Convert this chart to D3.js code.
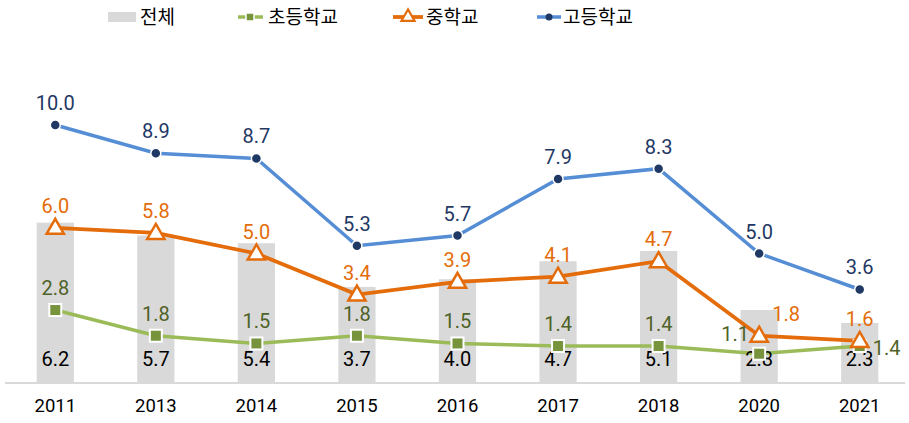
<!DOCTYPE html>
<html>
<head>
<meta charset="utf-8">
<script src="https://cdn.jsdelivr.net/npm/d3@7"></script>
<style>
  body { margin: 0; background: #fff; }
  text { font-family: Roboto, "Noto Sans CJK KR", sans-serif; }
  .legend text { font-family: "Noto Sans CJK KR", sans-serif; }
</style>
</head>
<body>
<svg id="chart"></svg>
<script>
// data
const years = ["2011", "2013", "2014", "2015", "2016", "2017", "2018", "2020", "2021"];
const total = [6.2, 5.7, 5.4, 3.7, 4.0, 4.7, 5.1, 2.8, 2.3];
const elementary = [2.8, 1.8, 1.5, 1.8, 1.5, 1.4, 1.4, 1.1, 1.4];
const middle = [6.0, 5.8, 5.0, 3.4, 3.9, 4.1, 4.7, 1.8, 1.6];
const high = [10.0, 8.9, 8.7, 5.3, 5.7, 7.9, 8.3, 5.0, 3.6];
const legendNames = ["전체", "초등학교", "중학교", "고등학교"];

const width = 909, height = 423;
const svg = d3.select("#chart").attr("width", width).attr("height", height);

const x = d3.scaleBand().domain(years).range([5, 910]).paddingInner(0.63).paddingOuter(0.315);
const y = d3.scaleLinear().domain([0, 10]).range([382, 125]);
const cx = d => x(d) + x.bandwidth() / 2;

// bars
svg.append("g").selectAll("rect")
  .data(years)
  .join("rect")
  .attr("x", d => x(d))
  .attr("width", x.bandwidth())
  .attr("y", (d, i) => y(total[i]))
  .attr("height", (d, i) => y(0) - y(total[i]))
  .attr("fill", "#d9d9d9");

// baseline
svg.append("line")
  .attr("x1", 5).attr("x2", 905)
  .attr("y1", y(0) + 1).attr("y2", y(0) + 1)
  .attr("stroke", "#d9d9d9").attr("stroke-width", 2);

// x axis labels
const xAxis = svg.append("g")
  .attr("transform", `translate(0,${y(0)})`)
  .call(d3.axisBottom(x).tickSize(0).tickPadding(17));
xAxis.select(".domain").remove();
xAxis.selectAll("text").attr("font-size", 18.5).attr("fill", "#000")
  .style("font-family", "Roboto, sans-serif");

const line = d3.line().x(d => cx(d.year)).y(d => y(d.v));
const pts = arr => years.map((yr, i) => ({ year: yr, v: arr[i] }));

// lines
svg.append("path").datum(pts(elementary)).attr("d", line)
  .attr("fill", "none").attr("stroke", "#9bbb59").attr("stroke-width", 3.5);
svg.append("path").datum(pts(middle)).attr("d", line)
  .attr("fill", "none").attr("stroke", "#e46c0a").attr("stroke-width", 3.8);
svg.append("path").datum(pts(high)).attr("d", line)
  .attr("fill", "none").attr("stroke", "#558ed5").attr("stroke-width", 3.5);

// bar labels (inside base)
svg.append("g").selectAll("text")
  .data(years)
  .join("text")
  .attr("x", d => cx(d))
  .attr("y", 366)
  .attr("text-anchor", "middle")
  .attr("font-size", 20)
  .attr("fill", "#000")
  .text((d, i) => total[i].toFixed(1));

// markers
svg.append("g").selectAll("rect")
  .data(pts(elementary))
  .join("rect")
  .attr("x", d => cx(d.year) - 6).attr("y", d => y(d.v) - 6)
  .attr("width", 12).attr("height", 12)
  .attr("fill", "#77933c").attr("stroke", "#fff").attr("stroke-width", 2);

const tri = d3.symbol().type(d3.symbolTriangle).size(130);
svg.append("g").selectAll("path")
  .data(pts(middle))
  .join("path")
  .attr("d", tri)
  .attr("transform", d => `translate(${cx(d.year)},${y(d.v) + 1})`)
  .attr("fill", "#fff").attr("stroke", "#e46c0a").attr("stroke-width", 2.5);

svg.append("g").selectAll("circle")
  .data(pts(high))
  .join("circle")
  .attr("cx", d => cx(d.year)).attr("cy", d => y(d.v))
  .attr("r", 5)
  .attr("fill", "#1f3864").attr("stroke", "#fff").attr("stroke-width", 1.5);

// point labels
function labels(arr, color, offsets) {
  svg.append("g").selectAll("text")
    .data(pts(arr))
    .join("text")
    .attr("x", (d, i) => cx(d.year) + (offsets[i] ? offsets[i][0] : 0))
    .attr("y", (d, i) => y(d.v) + (offsets[i] ? offsets[i][1] : -15))
    .attr("text-anchor", "middle")
    .attr("font-size", 20)
    .attr("fill", color)
    .text(d => d.v.toFixed(1));
}
labels(high, "#1f3864", {});
labels(middle, "#e46c0a", { 7: [27, -15] });
labels(elementary, "#4f6228", { 7: [-24, -13], 8: [27, 9] });

// legend
const lg = svg.append("g").attr("class", "legend").attr("font-size", 19).attr("fill", "#000");
lg.append("rect").attr("x", 108).attr("y", 12).attr("width", 28).attr("height", 10).attr("fill", "#d9d9d9");
lg.append("text").attr("x", 140).attr("y", 24).text(legendNames[0]);

lg.append("line").attr("x1", 238).attr("x2", 263).attr("y1", 17).attr("y2", 17)
  .attr("stroke", "#9bbb59").attr("stroke-width", 3.5);
lg.append("rect").attr("x", 246).attr("y", 13).attr("width", 8).attr("height", 8)
  .attr("fill", "#77933c").attr("stroke", "#fff").attr("stroke-width", 1.5);
lg.append("text").attr("x", 268).attr("y", 24).text(legendNames[1]);

lg.append("line").attr("x1", 393).attr("x2", 423).attr("y1", 17).attr("y2", 17)
  .attr("stroke", "#e46c0a").attr("stroke-width", 3.8);
lg.append("path").attr("d", d3.symbol().type(d3.symbolTriangle).size(75))
  .attr("transform", "translate(408,17)")
  .attr("fill", "#fff").attr("stroke", "#e46c0a").attr("stroke-width", 2.2);
lg.append("text").attr("x", 426).attr("y", 24).text(legendNames[2]);

lg.append("line").attr("x1", 537).attr("x2", 561).attr("y1", 17).attr("y2", 17)
  .attr("stroke", "#558ed5").attr("stroke-width", 3.5);
lg.append("circle").attr("cx", 549).attr("cy", 17).attr("r", 3.5).attr("fill", "#1f3864");
lg.append("text").attr("x", 563).attr("y", 24).text(legendNames[3]);
</script>
</body>
</html>
